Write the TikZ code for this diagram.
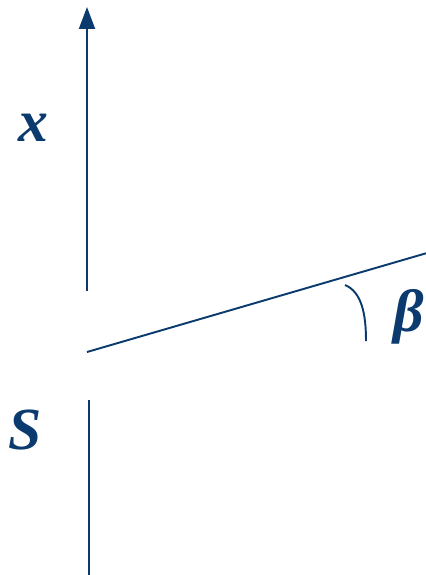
\documentclass[tikz,border=0pt]{standalone}
\usepackage{fontspec}
\setmainfont{Liberation Serif}
\usetikzlibrary{arrows.meta}
\definecolor{navy}{HTML}{0B3A6E}

\begin{document}
\begin{tikzpicture}[x=0.02cm, y=-0.02cm,
  ln/.style={navy, line width=1.1pt},
  lbl/.style={navy, font=\fontsize{34}{36}\selectfont\bfseries\itshape, inner sep=0pt}
]
\useasboundingbox (0,0) rectangle (426,575);

% axis x
\coordinate (xlow) at (87,291);
\coordinate (xtop) at (87,7);
\draw[ln, -{Triangle[length=0.44cm, width=0.32cm]}] (xlow) -- (xtop);
\node[lbl] (xlab) at (33,128) {x};

% inclined line
\coordinate (pstart) at (87,352);
\coordinate (pend) at (427,253);
\draw[ln] (pstart) -- (pend);

% angle
\coordinate (arcA) at (345,285);
\coordinate (arcB) at (366,341);
\draw[ln] (arcA) .. controls (362,292) and (366,315) .. (arcB);
\node[lbl] (beta) at (409,317) {β};

% axis S
\coordinate (stop) at (89,400);
\coordinate (sbot) at (89,575);
\draw[ln] (stop) -- (sbot);
\node[lbl] (slab) at (25,430) {S};
\end{tikzpicture}
\end{document}
